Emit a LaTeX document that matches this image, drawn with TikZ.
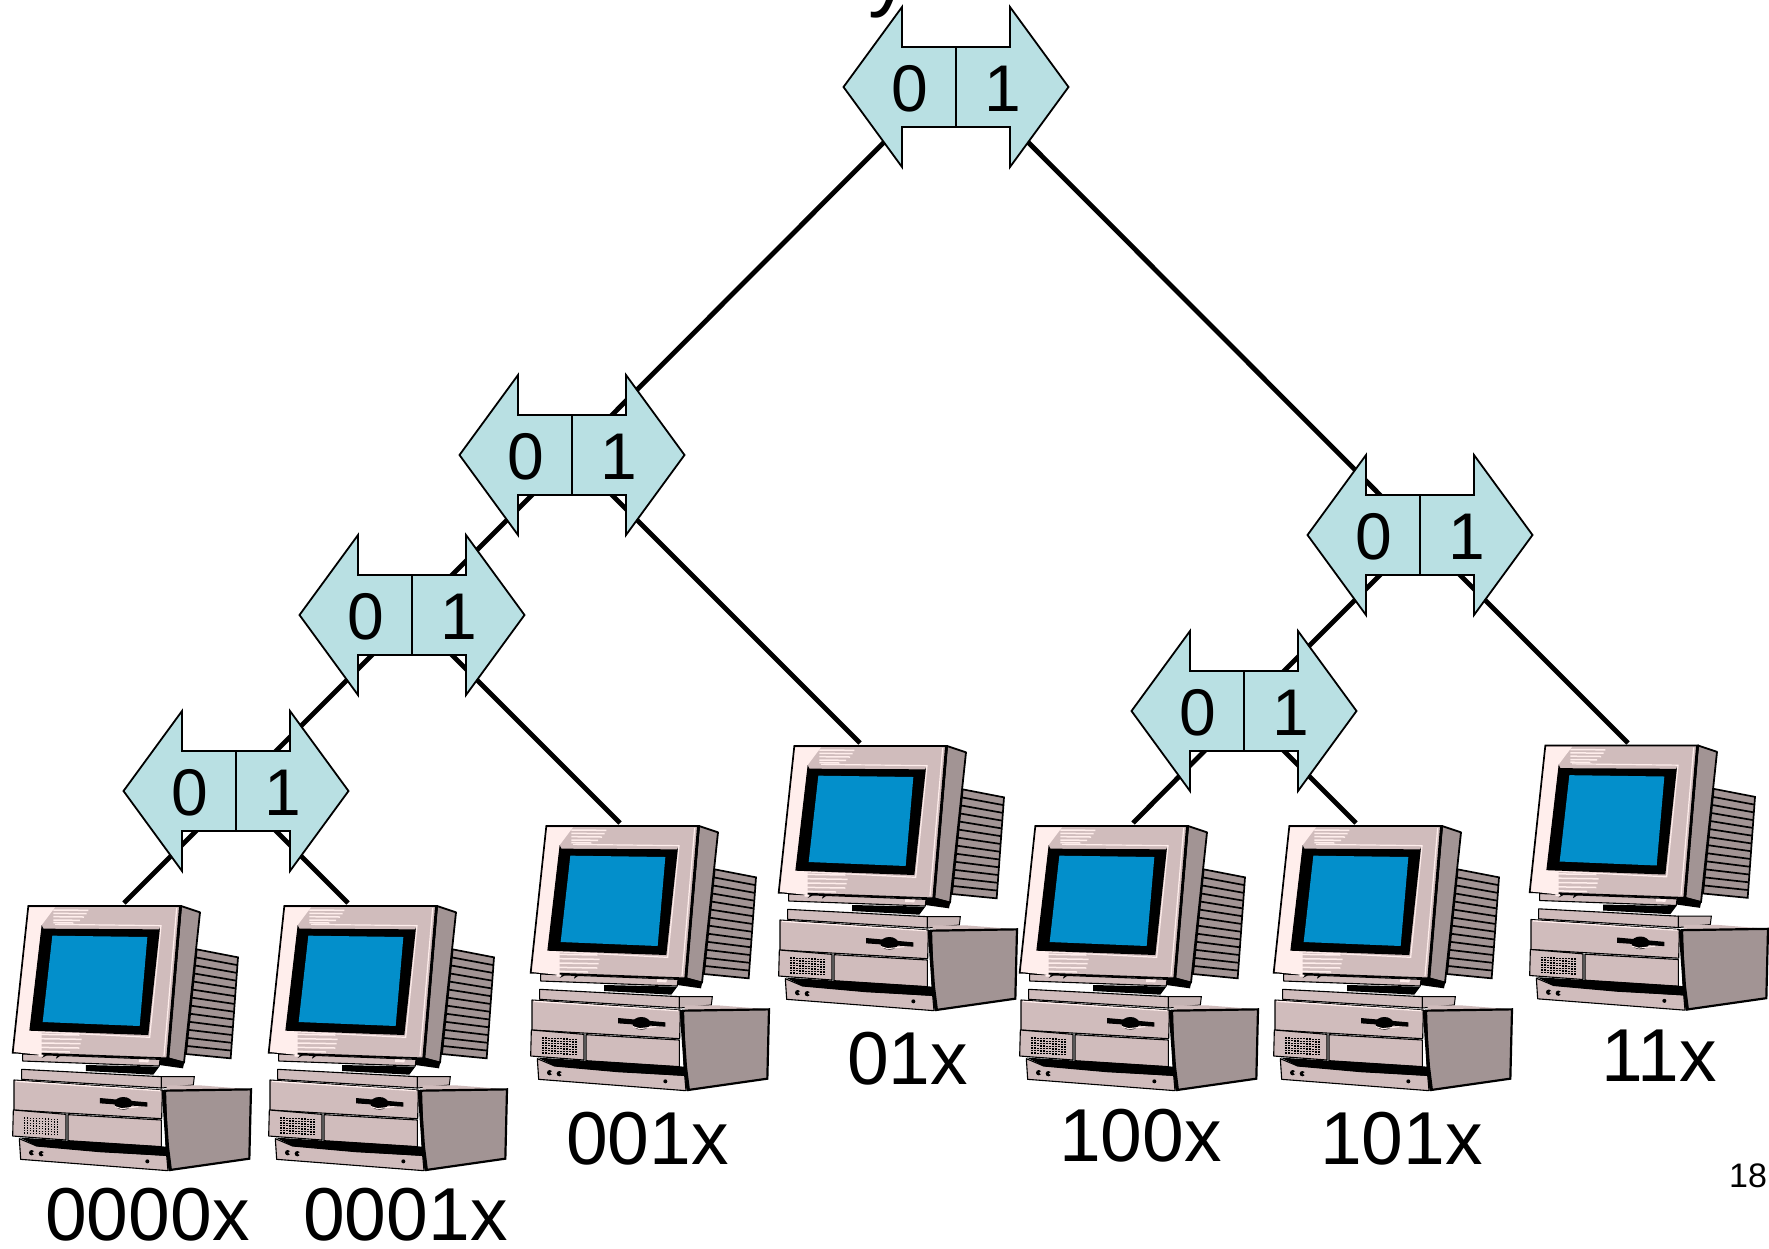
\documentclass[tikz,border=0pt]{standalone}
\usepackage{fontspec}
\setmainfont{Liberation Sans}
\usetikzlibrary{calc,backgrounds}
\definecolor{rosec}{HTML}{D0BCBC}
\definecolor{palec}{HTML}{FFEEEC}
\definecolor{grayc}{HTML}{A29494}
\definecolor{bluec}{HTML}{038FCB}
\definecolor{switchc}{HTML}{B9E0E3}
\tikzset{
  wire/.style={line width=4.8pt,line cap=butt},
  swbody/.style={draw=black,line width=1.8pt,fill=switchc,line join=miter},
  swbox/.style={rectangle,minimum width=225pt,minimum height=160pt,inner sep=0pt},
  digit/.style={anchor=base,inner sep=0pt,font=\fontsize{66}{78}\selectfont},
  lab/.style={anchor=base west,inner sep=0pt,font=\fontsize{75}{88}\selectfont},
  part/.style={draw=black,line width=1.1pt,fill=rosec,line join=round},
  computerart/.pic={
    % cooling fins
    \path[draw=black,line width=1.7pt,fill=grayc] (590,208)--(714,232)--(692,535)--(558,522)--cycle;
    \foreach \i in {1,...,12}{
      \pgfmathsetmacro\t{\i/13}
      \draw[black,line width=1.7pt] ({590-32*\t},{208+314*\t})--({714-22*\t},{232+303*\t});
    }
    % monitor side
    \path[draw=black,line width=1.8pt,fill=grayc,line join=round] (543,78)--(600,97)--(552,548)--(505,535)--cycle;
    \fill[black] (505,533)--(553,545)--(549,565)--(478,555)--(480,535)--cycle;
    % lip under the monitor
    \path[part] (68,522)--(480,538)--(478,558)--(68,543)--cycle;
    \fill[palec] (417,538)--(447,539)--(445,547)--(417,546)--cycle;
    \fill[palec] (114,518)--(130,518)--(128,530)--(116,530)--cycle;
    \fill[black] (125,534)--(148,522)--(136,522)--cycle;
    \fill[black] (168,536)--(186,524)--(172,524)--cycle;
    % neck
    \fill[black] (258,555)--(478,560)--(460,584)--(258,573)--cycle;
    % bezel
    \path[draw=black,line width=1.7pt,fill=rosec,line join=miter] (85,78)--(543,78)--(503,535)--(38,518)--cycle;
    \fill[palec] (88,82)--(165,82)--(125,135)--(90,452)--(125,455)--(125,525)--(42,516)--cycle;
    \foreach \yy/\ww in {90/105,100/100,110/92,120/80,128/60}{
      \draw[palec,line width=1.5pt] (160,\yy)--(160+\ww,\yy+1);
    }
    \foreach \yy/\ww in {463/118,476/125,489/122,502/118,514/90}{
      \draw[palec,line width=1.5pt] (120,\yy)--(120+\ww,\yy+2);
    }
    \draw[palec,line width=1.2pt] (530,84)--(492,528);
    \draw[black,line width=2.6pt] (541,80)--(503,535);
    \draw[palec,line width=1.2pt] (165,133)--(483,137)--(449,472)--(90,454);
    % screen
    \fill[black] (125,135)--(130,146)--(478,148)--(480,142)--(445,465)--(88,452)--cycle;
    \fill[bluec] (157,167)--(442,171)--(419,438)--(128,426)--cycle;
    % keyboard plate
    \path[part] (65,568)--(484,590)--(484,624)--(65,598)--cycle;
    \path[draw=black,line width=1pt,fill=rosec!85!gray] (484,590)--(583,590)--(580,615)--(484,624)--cycle;
    % case top, side
    \path[fill=rosec] (500,616)--(600,616)--(752,628)--(500,632)--cycle;
    \path[draw=black,line width=2.2pt,fill=grayc,line join=miter] (495,632)--(753,628)--(748,836)--(510,870)--(500,800)--cycle;
    % case front
    \path[part] (42,600)--(487,630)--(485,716)--(42,690)--cycle;
    \fill[palec] (48,602)--(480,630)--(480,634)--(48,606)--cycle;
    \fill[black] (300,654)--(442,667)--(442,680)--(300,670)--cycle;
    \fill[black] (370,670) ellipse [x radius=27,y radius=19];
    \draw[palec,line width=1pt] (345,680)--(365,686)--(415,680);
    % panels
    \path[part] (40,690)--(198,703)--(198,780)--(38,768)--cycle;
    \path[part] (204,704)--(484,720)--(484,800)--(204,782)--cycle;
    \foreach \a in {0,...,11}{\foreach \b in {0,...,6}{
      \fill[black] ({72+\a*9},{712+\b*7.5+\a*0.4}) rectangle +(4.5,4);
    }}
    % bottom plate
    \path[part] (58,776)--(110,798)--(300,815)--(500,826)--(504,872)--(62,838)--cycle;
    \fill[black] (60,773)--(500,800)--(502,828)--(300,815)--(110,798)--cycle;
    \fill[black] (95,818) circle [radius=8];
    \fill[black] (124,821) circle [radius=8];
    \fill[rosec] (101,818) circle [radius=4];
    \fill[rosec] (130,821) circle [radius=4];
    \fill[black] (442,844) circle [radius=6];
    \draw[black,line width=3.4pt] (490,630)--(502,800)--(511,872);
  }
}
\newcommand\switchnode[3]{
  \node[swbox] (#1) at (#2,#3) {};
  \begin{scope}[shift={(#1.center)}]
    \path[swbody] (-112.5,0)--(-54,-80)--(-54,-40)--(54,-40)--(54,-80)--(112.5,0)--(54,80)--(54,40)--(-54,40)--(-54,80)--cycle;
    \draw[black,line width=1.8pt] (0,-40)--(0,40);
    \node[digit] (#1zero) at (-46,24) {0};
    \node[digit] (#1one) at (47,24) {1};
    \coordinate (#1l) at (-17,0);
    \coordinate (#1r) at (17,0);
  \end{scope}
}
\begin{document}
\begin{tikzpicture}[x=1pt,y=-1pt]
  \useasboundingbox (0,0) rectangle (1769,1248);
  \clip (0,0) rectangle (1769,1248);
  \node[anchor=base west,inner sep=0pt,font=\fontsize{85}{100}\selectfont] (title) at (868,0) {y};

  % connector ends on the computers
  \coordinate (e1) at (124,903);
  \coordinate (e2) at (348,903);
  \coordinate (e3) at (620,823);
  \coordinate (e4) at (860,743);
  \coordinate (e5) at (1133,823);
  \coordinate (e6) at (1356,823);
  \coordinate (e7) at (1628,743);

  \switchnode{s1}{956}{87}
  \switchnode{s2}{572}{455}
  \switchnode{s3}{412}{615}
  \switchnode{s4}{236}{791}
  \switchnode{s5}{1420}{535}
  \switchnode{s6}{1244}{711}

  \begin{scope}[on background layer]
    \fill[white] (0,0) rectangle (1769,1248);
    \draw[wire] (s1l)--(s2.center);
    \draw[wire] (s2.center)--(s3.center);
    \draw[wire] (s3.center)--(s4.center);
    \draw[wire] (s4.center)--(e1);
    \draw[wire] (s4.center)--(e2);
    \draw[wire] (s3.center)--(e3);
    \draw[wire] (s2.center)--(e4);
    \draw[wire] (s1r)--(s5.center);
    \draw[wire] (s5.center)--(s6.center);
    \draw[wire] (s6.center)--(e5);
    \draw[wire] (s6.center)--(e6);
    \draw[wire] (s5.center)--(e7);
  \end{scope}

  \pic[scale=1/3] (c1) at (0,880) {computerart};
  \pic[scale=1/3] (c2) at (256,880) {computerart};
  \pic[scale=1/3] (c3) at (518,800) {computerart};
  \pic[scale=1/3] (c4) at (766,720) {computerart};
  \pic[scale=1/3] (c5) at (1007,800) {computerart};
  \pic[scale=1/3] (c6) at (1261,800) {computerart};
  \pic[scale=1/3] (c7) at (1517,719.5) {computerart};

  \node[lab] (l1) at (45,1240) {0000x};
  \node[lab] (l2) at (303,1240) {0001x};
  \node[lab] (l3) at (566,1164) {001x};
  \node[lab] (l4) at (847,1084) {01x};
  \node[lab] (l5) at (1059,1161) {100x};
  \node[lab] (l6) at (1320,1164) {101x};
  \node[lab] (l7) at (1601,1081) {11x};
  \node[anchor=base west,inner sep=0pt,font=\fontsize{34}{40}\selectfont] (pg) at (1729,1187) {18};
\end{tikzpicture}
\end{document}
